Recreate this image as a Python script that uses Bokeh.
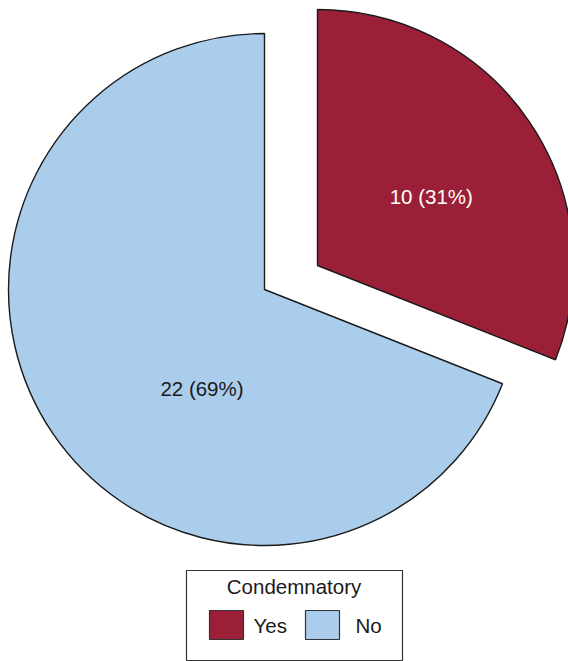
import math
from bokeh.plotting import figure
from bokeh.models import Range1d, ColumnDataSource
from bokeh.core.properties import value
from bokeh.embed import file_html
from bokeh.resources import INLINE

# ---- data ----
categories = ["Yes", "No"]
counts = [10, 22]
percents = [31, 69]
legend_title = "Condemnatory"
colors = ["#9b1f37", "#abcdec"]
label_colors = ["#ffffff", "#1a1a1a"]

# ---- layout / style ----
W, H = 568, 661
FONT = value("Liberation Sans")
FS = "20.5px"
cx, cy, R = 264, 372, 256
explode = [(53, 24), (0, 0)]
label_pos = [(133, 31.2), (117, 237.7)]  # (radius, angle deg) from slice vertex

p = figure(width=W, height=H, output_backend="svg", toolbar_location=None,
           x_range=Range1d(0, W), y_range=Range1d(0, H),
           x_axis_location=None, y_axis_location=None, min_border=0)
p.outline_line_color = None
p.grid.visible = False
p.background_fill_color = "white"
p.border_fill_color = "white"

total = sum(percents)
start = 90.0
xs, ys, sa, ea, lx, ly, labels = [], [], [], [], [], [], []
for i, (c, n, pc) in enumerate(zip(categories, counts, percents)):
    sweep = 360.0 * pc / total
    a_end = start
    a_start = start - sweep
    ox, oy = explode[i]
    vx, vy = cx + ox, cy + oy
    xs.append(vx); ys.append(vy)
    sa.append(math.radians(a_start)); ea.append(math.radians(a_end))
    lr, la = label_pos[i]
    lx.append(vx + lr * math.cos(math.radians(la)))
    ly.append(vy + lr * math.sin(math.radians(la)))
    labels.append(f"{n} ({pc}%)")
    start = a_start

src = ColumnDataSource(dict(x=xs, y=ys, sa=sa, ea=ea, color=colors,
                            lx=lx, ly=ly, label=labels, lc=label_colors))
p.wedge(x="x", y="y", radius=R, start_angle="sa", end_angle="ea",
        fill_color="color", line_color="#1a1a1a", line_width=1.4, source=src)
p.text(x="lx", y="ly", text="label", text_color="lc", text_font=FONT,
       text_font_size=FS, text_align="center", text_baseline="middle", source=src)

# ---- legend (drawn) ----
p.rect(x=[294], y=[46], width=[216], height=[90], fill_color="white",
       line_color="#333333", line_width=1.2)
p.text(x=[293.5], y=[75], text=[legend_title], text_font=FONT, text_font_size=FS,
       text_color="#1a1a1a", text_align="center", text_baseline="middle")
sw_x = [226, 322]
txt_x = [253, 355]
p.rect(x=sw_x, y=[36.5, 36.5], width=[34, 34], height=[29, 29],
       fill_color=colors, line_color="#333333", line_width=1.2)
p.text(x=txt_x, y=[36, 36], text=categories, text_font=FONT, text_font_size=FS,
       text_color="#1a1a1a", text_align="left", text_baseline="middle")

open("out.html", "w").write(file_html(p, INLINE))
